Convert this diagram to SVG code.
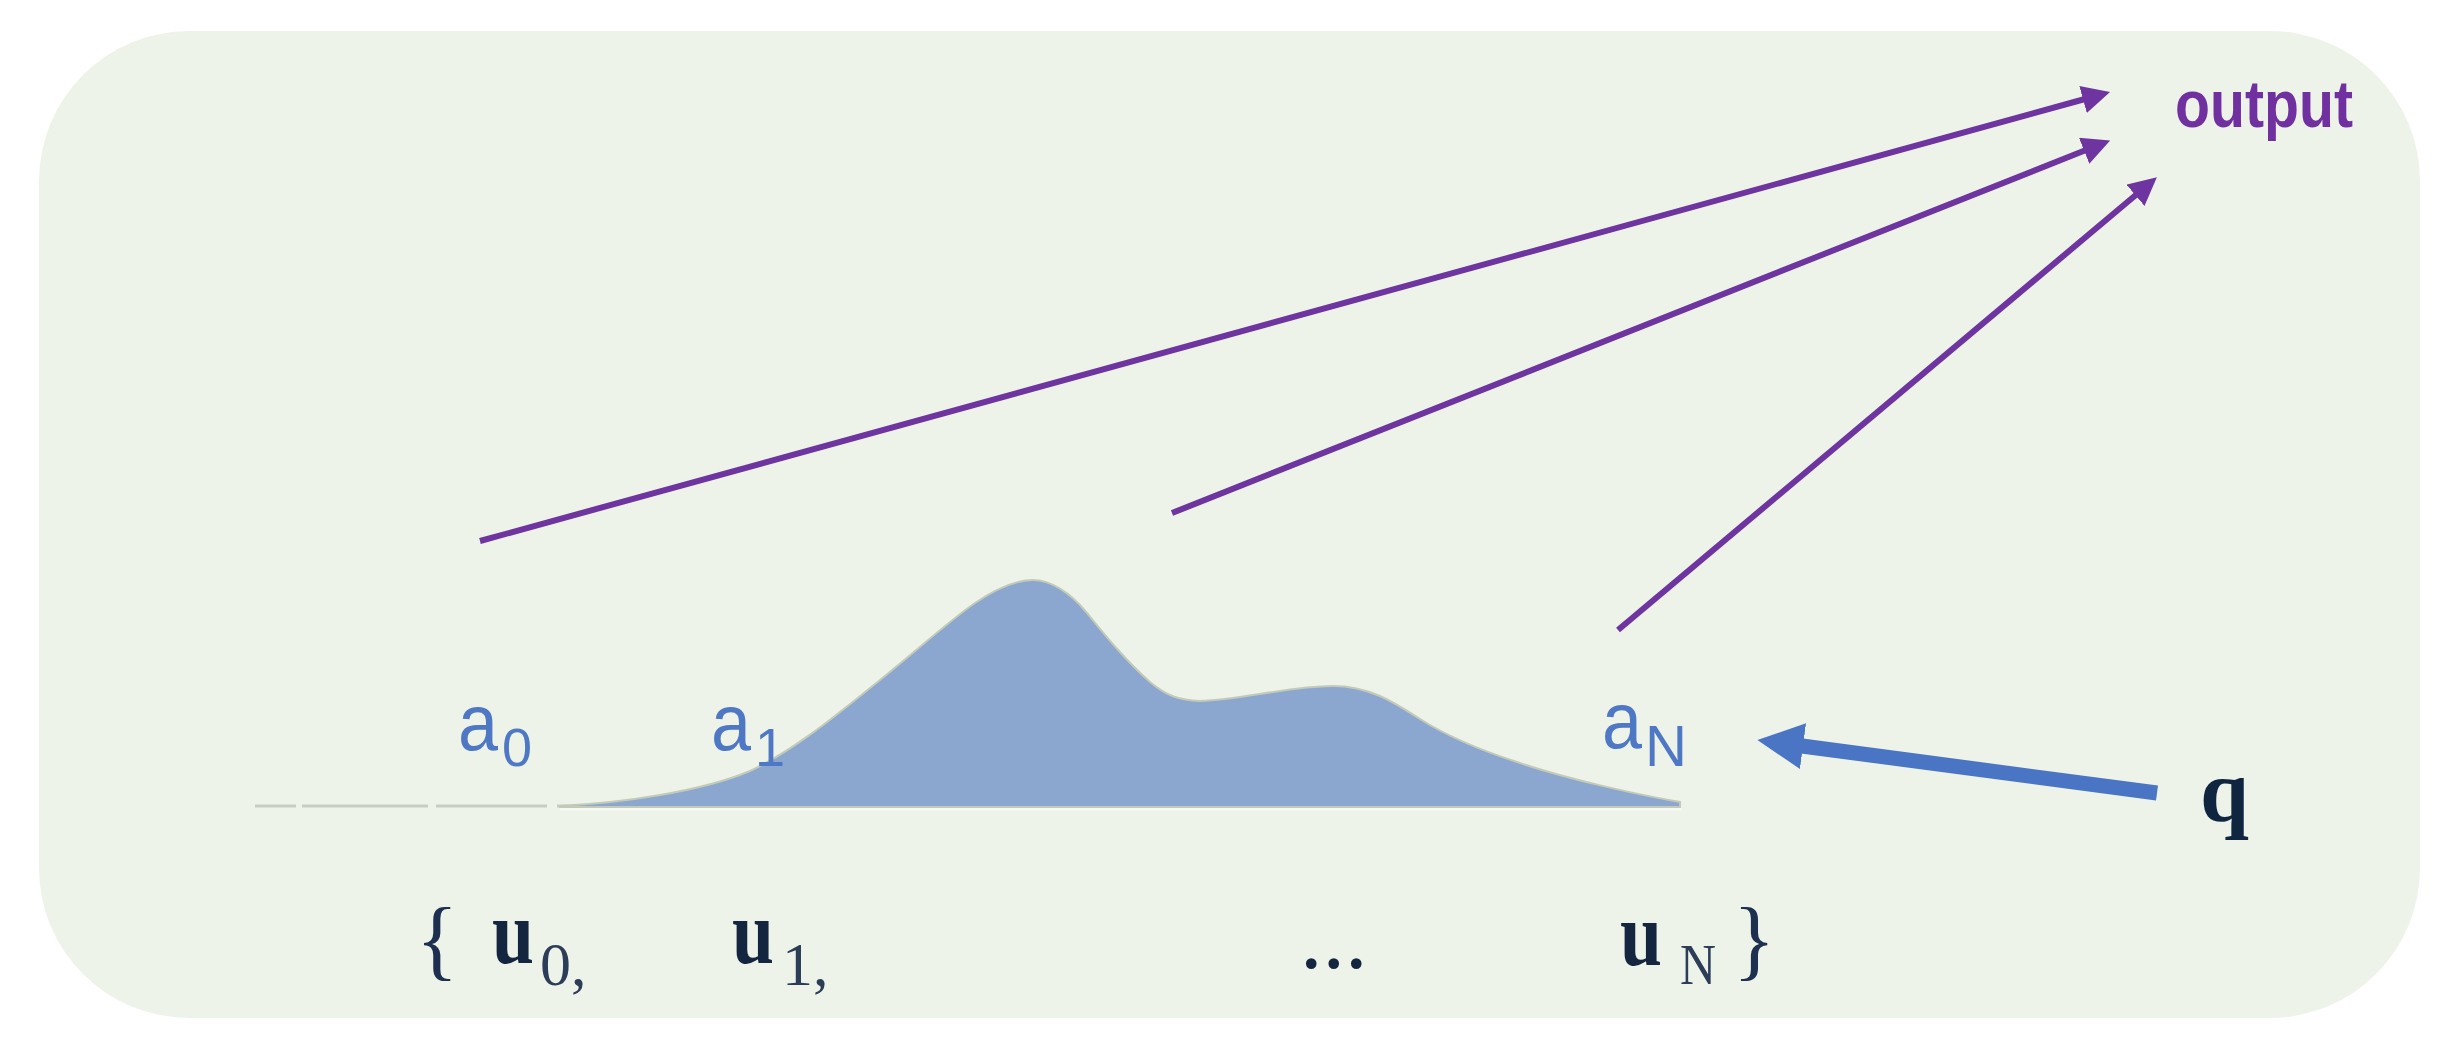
<svg xmlns="http://www.w3.org/2000/svg" width="2456" height="1062" viewBox="0 0 2456 1062">
  <style>
    .alab { font-family: "Liberation Sans", Arial, sans-serif; fill: #4f78c4; }
    .ulab { font-family: "Liberation Serif", "Times New Roman", serif; fill: #14263f; font-weight: bold; font-size: 90px; }
    .dots { font-family: "Liberation Serif", "Times New Roman", serif; fill: #14263f; font-size: 90px; }
    .usub { font-family: "Liberation Serif", "Times New Roman", serif; fill: #2c3d58; }
    .brace { font-family: "Liberation Serif", "Times New Roman", serif; fill: #1e3050; font-size: 88px; }
    .pline { stroke: #6e35a0; stroke-width: 6; fill: none; }
    .axis { stroke: #c9ccc2; stroke-width: 3; }
  </style>
  <defs>
    <marker id="ap" markerUnits="userSpaceOnUse" markerWidth="30" markerHeight="28" viewBox="0 0 30 28" refX="2" refY="14" orient="auto">
      <path d="M0,0 L28,14 L0,28 Z" fill="#6e35a0"/>
    </marker>
    <marker id="ab" markerUnits="userSpaceOnUse" markerWidth="48" markerHeight="48" viewBox="0 0 48 48" refX="1" refY="24" orient="auto">
      <path d="M0,1 L46,24 L0,47 Z" fill="#4a74c4"/>
    </marker>
  </defs>

  <rect width="2456" height="1062" fill="#ffffff"/>
  <g id="panel">
    <rect x="39" y="31" width="2381" height="987" rx="150" ry="150" fill="#eef3ea"/>
  </g>

  <g id="axis">
    <line class="axis" x1="255" y1="806" x2="296" y2="806"/>
    <line class="axis" x1="302" y1="806" x2="428" y2="806"/>
    <line class="axis" x1="436" y1="806" x2="547" y2="806"/>
    <line class="axis" x1="557" y1="806" x2="600" y2="806"/>
    <line x1="560" y1="809" x2="1682" y2="809" stroke="#f6f9f3" stroke-width="3"/>
  </g>

  <g id="distribution">
    <path d="M560,806 C620,803 700,792 750,771 C795,750 840,712 880,680 C915,652 950,620 975,603 C1000,586 1018,580 1033,580 C1050,580 1070,592 1087,613 C1105,635 1125,660 1150,682 C1168,697 1180,700 1200,701 C1240,700 1290,686 1333,686 C1370,686 1395,703 1420,719 C1450,738 1480,750 1517,762 C1570,780 1640,795 1680,802 L1680,807 L560,807 Z" fill="#8ba6cf" stroke="#c3cbb8" stroke-width="2"/>
  </g>

  <g id="label-a0">
    <text class="alab" x="458" y="750" font-size="80" textLength="40" lengthAdjust="spacingAndGlyphs">a</text>
    <text class="alab" x="502" y="766" font-size="54">0</text>
  </g>
  <g id="label-a1">
    <text class="alab" x="711" y="750" font-size="80" textLength="40" lengthAdjust="spacingAndGlyphs">a</text>
    <text class="alab" x="755" y="766" font-size="54">1</text>
  </g>
  <g id="label-aN">
    <text class="alab" x="1602" y="748" font-size="80" textLength="40" lengthAdjust="spacingAndGlyphs">a</text>
    <text class="alab" x="1645" y="766" font-size="57" textLength="42" lengthAdjust="spacingAndGlyphs">N</text>
  </g>

  <g id="set-u">
    <text class="brace" x="416" y="969">{</text>
    <text class="ulab" x="492" y="963" textLength="42" lengthAdjust="spacingAndGlyphs">u</text>
    <text class="usub" x="540" y="985" font-size="62">0,</text>
    <text class="ulab" x="732" y="963" textLength="42" lengthAdjust="spacingAndGlyphs">u</text>
    <text class="usub" x="782" y="985" font-size="62">1,</text>
    <text class="dots" x="1300" y="968">...</text>
    <text class="ulab" x="1620" y="965" textLength="42" lengthAdjust="spacingAndGlyphs">u</text>
    <text class="usub" x="1680" y="984" font-size="57" textLength="36" lengthAdjust="spacingAndGlyphs">N</text>
    <text class="brace" x="1733" y="969">}</text>
  </g>

  <g id="query">
    <text x="2200" y="821" font-family="'Liberation Serif', 'Times New Roman', serif" font-weight="bold" font-size="88" fill="#0f2540">q</text>
  </g>

  <g id="output">
    <text x="2175" y="127" font-family="'Liberation Sans', Arial, sans-serif" font-weight="bold" font-size="66" fill="#7030a0" textLength="178" lengthAdjust="spacingAndGlyphs">output</text>
  </g>

  <g id="connectors">
    <line class="pline" x1="480" y1="541" x2="2085" y2="99" marker-end="url(#ap)"/>
    <line class="pline" x1="1172" y1="513" x2="2086" y2="150" marker-end="url(#ap)"/>
    <line class="pline" x1="1618" y1="630" x2="2137" y2="194" marker-end="url(#ap)"/>
    <line x1="2157" y1="793" x2="1802" y2="746" stroke="#4a74c4" stroke-width="15" marker-end="url(#ab)"/>
  </g>
</svg>
